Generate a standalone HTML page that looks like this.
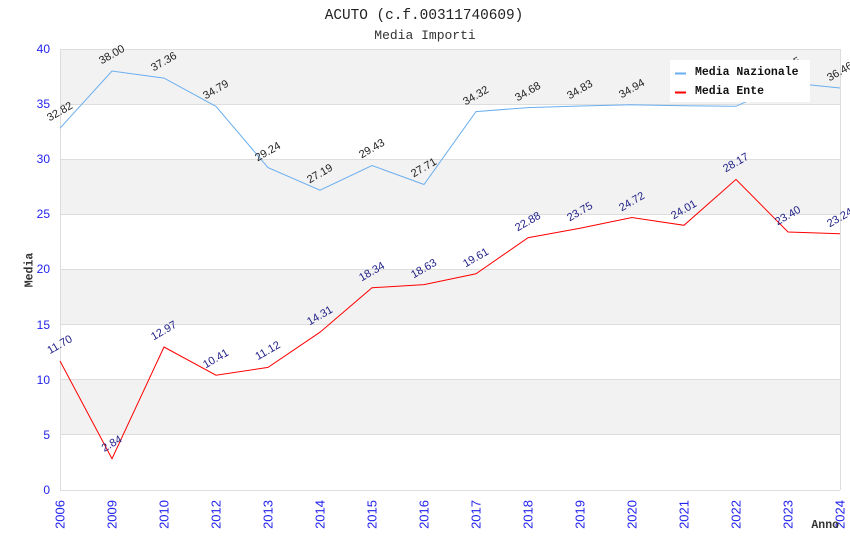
<!DOCTYPE html>
<html><head><meta charset="utf-8"><style>
html,body{margin:0;padding:0;background:#fff;}
svg{display:block;}
.yt{font-family:"Liberation Sans",sans-serif;font-size:12px;fill:#2222ee;}
.xt{font-family:"Liberation Sans",sans-serif;font-size:13px;fill:#2222ee;}
.lb{font-family:"Liberation Sans",sans-serif;font-size:11px;fill:#222;}
.lr{font-family:"Liberation Sans",sans-serif;font-size:11px;fill:#22228a;}
.mono{font-family:"Liberation Mono","DejaVu Sans Mono",monospace;}
</style></head><body>
<svg width="850" height="550" viewBox="0 0 850 550" xmlns="http://www.w3.org/2000/svg">
<rect width="850" height="550" fill="#fff"/>
<!-- bands -->
<rect x="60" y="49" width="780" height="55.1" fill="#f2f2f2"/>
<rect x="60" y="159.25" width="780" height="55.1" fill="#f2f2f2"/>
<rect x="60" y="269.5" width="780" height="55.1" fill="#f2f2f2"/>
<rect x="60" y="379.75" width="780" height="55.1" fill="#f2f2f2"/>
<!-- grid -->
<g stroke="#dddddd" stroke-width="1" shape-rendering="crispEdges">
<line x1="60" y1="49.5" x2="840" y2="49.5"/>
<line x1="60" y1="104.5" x2="840" y2="104.5"/>
<line x1="60" y1="159.5" x2="840" y2="159.5"/>
<line x1="60" y1="214.5" x2="840" y2="214.5"/>
<line x1="60" y1="269.5" x2="840" y2="269.5"/>
<line x1="60" y1="324.5" x2="840" y2="324.5"/>
<line x1="60" y1="379.5" x2="840" y2="379.5"/>
<line x1="60" y1="434.5" x2="840" y2="434.5"/>
<line x1="60" y1="490.5" x2="840" y2="490.5"/>
<line x1="60.5" y1="49" x2="60.5" y2="490"/>
<line x1="840.5" y1="49" x2="840.5" y2="490"/>
</g>
<!-- y ticks -->
<g class="yt" text-anchor="end" dominant-baseline="central">
<text x="50" y="49">40</text>
<text x="50" y="104">35</text>
<text x="50" y="159">30</text>
<text x="50" y="214">25</text>
<text x="50" y="269">20</text>
<text x="50" y="325">15</text>
<text x="50" y="380">10</text>
<text x="50" y="435">5</text>
<text x="50" y="490">0</text>
</g>
<!-- x ticks -->
<g class="xt" text-anchor="end" dominant-baseline="central">
<text transform="translate(60,500) rotate(-90)">2006</text>
<text transform="translate(112,500) rotate(-90)">2009</text>
<text transform="translate(164,500) rotate(-90)">2010</text>
<text transform="translate(216,500) rotate(-90)">2012</text>
<text transform="translate(268,500) rotate(-90)">2013</text>
<text transform="translate(320,500) rotate(-90)">2014</text>
<text transform="translate(372,500) rotate(-90)">2015</text>
<text transform="translate(424,500) rotate(-90)">2016</text>
<text transform="translate(476,500) rotate(-90)">2017</text>
<text transform="translate(528,500) rotate(-90)">2018</text>
<text transform="translate(580,500) rotate(-90)">2019</text>
<text transform="translate(632,500) rotate(-90)">2020</text>
<text transform="translate(684,500) rotate(-90)">2021</text>
<text transform="translate(736,500) rotate(-90)">2022</text>
<text transform="translate(788,500) rotate(-90)">2023</text>
<text transform="translate(840,500) rotate(-90)">2024</text>
</g>
<!-- lines -->
<polyline fill="none" stroke="#6aaef0" stroke-width="1" points="60,128.2 112,71.05 164,78.1 216,106.4 268,167.6 320,190.2 372,165.5 424,184.5 476,111.6 528,107.6 580,106.0 632,104.8 684,105.7 736,106.3 788,82.6 840,88.0"/>
<polyline fill="none" stroke="#ff0000" stroke-width="1" points="60,361.0 112,458.7 164,347.0 216,375.2 268,367.4 320,332.2 372,287.8 424,284.6 476,273.8 528,237.7 580,228.2 632,217.5 684,225.3 736,179.4 788,232.0 840,233.8"/>
<!-- labels blue -->
<g class="lb" text-anchor="middle" dominant-baseline="central">
<text transform="translate(60,112) rotate(-30)">32.82</text>
<text transform="translate(112,55) rotate(-30)">38.00</text>
<text transform="translate(164,62) rotate(-30)">37.36</text>
<text transform="translate(216,90) rotate(-30)">34.79</text>
<text transform="translate(268,152) rotate(-30)">29.24</text>
<text transform="translate(320,174) rotate(-30)">27.19</text>
<text transform="translate(372,149) rotate(-30)">29.43</text>
<text transform="translate(424,168) rotate(-30)">27.71</text>
<text transform="translate(476,96) rotate(-30)">34.32</text>
<text transform="translate(528,92) rotate(-30)">34.68</text>
<text transform="translate(580,90) rotate(-30)">34.83</text>
<text transform="translate(632,89) rotate(-30)">34.94</text>
<text transform="translate(684,90) rotate(-30)">34.86</text>
<text transform="translate(736,90) rotate(-30)">34.80</text>
<text transform="translate(788,67) rotate(-30)">36.95</text>
<text transform="translate(840,72) rotate(-30)">36.46</text>
</g>
<!-- labels red -->
<g class="lr" text-anchor="middle" dominant-baseline="central">
<text transform="translate(60,345) rotate(-30)">11.70</text>
<text transform="translate(112,444) rotate(-30)">2.84</text>
<text transform="translate(164,331) rotate(-30)">12.97</text>
<text transform="translate(216,359) rotate(-30)">10.41</text>
<text transform="translate(268,351) rotate(-30)">11.12</text>
<text transform="translate(320,316) rotate(-30)">14.31</text>
<text transform="translate(372,272) rotate(-30)">18.34</text>
<text transform="translate(424,269) rotate(-30)">18.63</text>
<text transform="translate(476,258) rotate(-30)">19.61</text>
<text transform="translate(528,222) rotate(-30)">22.88</text>
<text transform="translate(580,212) rotate(-30)">23.75</text>
<text transform="translate(632,202) rotate(-30)">24.72</text>
<text transform="translate(684,210) rotate(-30)">24.01</text>
<text transform="translate(736,163) rotate(-30)">28.17</text>
<text transform="translate(788,216) rotate(-30)">23.40</text>
<text transform="translate(840,218) rotate(-30)">23.24</text>
</g>
<!-- legend -->
<rect x="670" y="60" width="140" height="42" fill="#fff"/>
<line x1="675" y1="73.5" x2="686" y2="73.5" stroke="#6aaef0" stroke-width="2"/>
<line x1="675" y1="92.5" x2="686" y2="92.5" stroke="#ff0000" stroke-width="2"/>
<g class="mono" font-size="11.5" font-weight="bold" fill="#111">
<text x="695" y="75">Media Nazionale</text>
<text x="695" y="94">Media Ente</text>
</g>
<!-- titles -->
<text class="mono" x="424" y="19" font-size="14.4" fill="#222" text-anchor="middle">ACUTO (c.f.00311740609)</text>
<text class="mono" x="425" y="39" font-size="13" fill="#333" text-anchor="middle">Media Importi</text>
<text class="mono" font-size="11.5" font-weight="bold" fill="#333" text-anchor="middle" dominant-baseline="central" transform="translate(30,270) rotate(-90)">Media</text>
<text class="mono" x="839" y="528" font-size="11.5" font-weight="bold" fill="#333" text-anchor="end">Anno</text>
</svg>
</body></html>
